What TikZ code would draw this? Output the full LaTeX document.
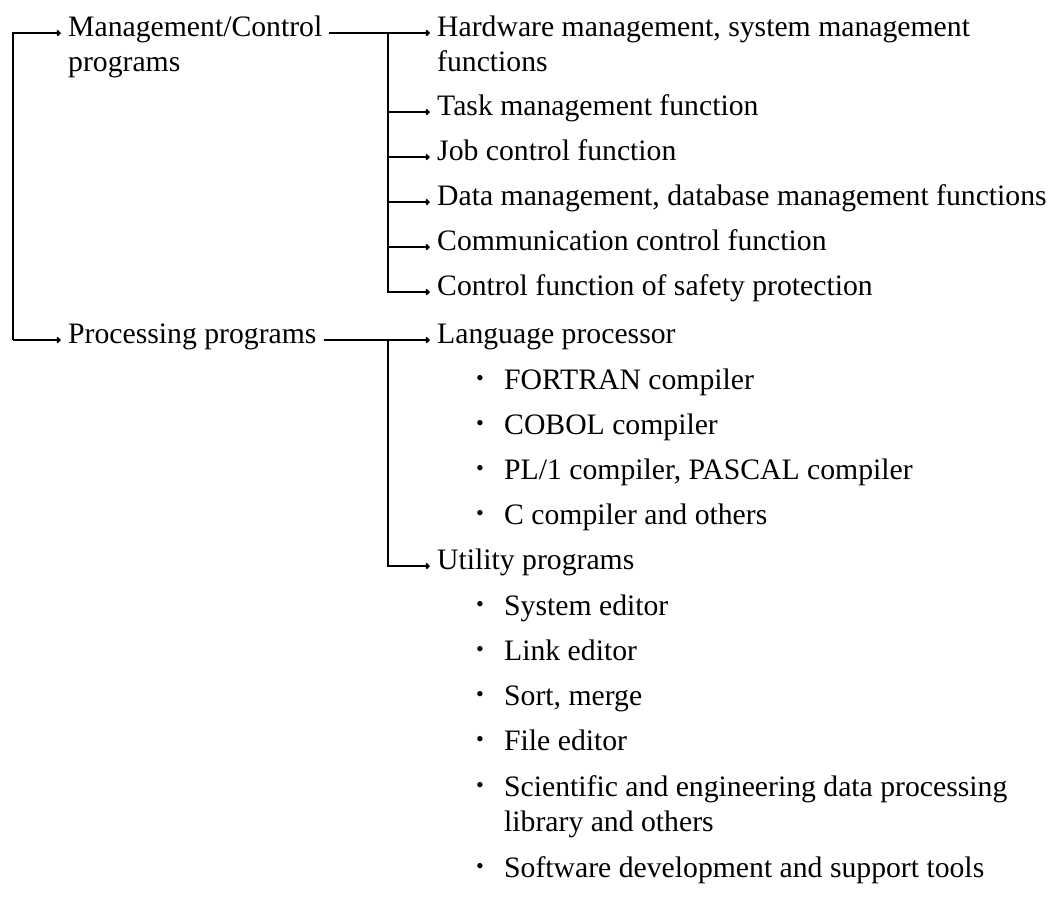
\documentclass[tikz,border=0pt]{standalone}
\usepackage{fontspec}
\setmainfont{Liberation Serif}
\usepackage{graphicx}
\usetikzlibrary{arrows.meta,positioning}
\newcommand{\listdot}{\makebox[28pt][l]{\raisebox{0.12em}{\scalebox{0.75}{•}}}}
\tikzset{%
	item/.style     = {anchor=base west, inner xsep=7pt, inner ysep=0pt, text height=0.7em, text depth=0.1em, font=\fontsize{29.7}{36}\selectfont}, % Text entry
	rowbelow/.style = {below=#1, anchor=base west}, % Next line under an entry
	wire/.style     = {line width=1.8pt},
	branch/.style   = {wire, -{Straight Barb[length=2.5pt,width=5pt]}},
}

\begin{document}
\begin{tikzpicture}[x=1pt,y=-1pt]
	\useasboundingbox (0,0) rectangle (1062,898);
	\coordinate (bus0) at (13,0);
	\coordinate (bus1) at (388,0);

	\node[item] (mgmt) at (61,36) {Management/Control};
	\node[item,rowbelow=35pt of mgmt.base west] (mgmt2) {programs};
	\node[item] (proc) at (61,343) {Processing programs};

	\node[item] (hw) at (430,36) {Hardware management, system management};
	\node[item,rowbelow=35pt of hw.base west] (hw2) {functions};
	\node[item,rowbelow=44pt of hw2.base west] (task) {Task management function};
	\node[item,rowbelow=45pt of task.base west] (job) {Job control function};
	\node[item,rowbelow=45pt of job.base west] (data) {Data management, database management functions};
	\node[item,rowbelow=45pt of data.base west] (comm) {Communication control function};
	\node[item,rowbelow=45pt of comm.base west] (safety) {Control function of safety protection};

	\node[item] (lang) at (430,343) {Language processor};
	\node[item,rowbelow=46pt of lang.base west,xshift=39pt] (fortran) {\listdot FORTRAN compiler};
	\node[item,rowbelow=45pt of fortran.base west] (cobol) {\listdot COBOL compiler};
	\node[item,rowbelow=45pt of cobol.base west] (pl1) {\listdot PL/1 compiler, PASCAL compiler};
	\node[item,rowbelow=45pt of pl1.base west] (ccomp) {\listdot C compiler and others};
	\node[item] (util) at (430,569) {Utility programs};
	\node[item,rowbelow=46pt of util.base west,xshift=39pt] (syseditor) {\listdot System editor};
	\node[item,rowbelow=45pt of syseditor.base west] (link) {\listdot Link editor};
	\node[item,rowbelow=45pt of link.base west] (sort) {\listdot Sort, merge};
	\node[item,rowbelow=45pt of sort.base west] (fileeditor) {\listdot File editor};
	\node[item,rowbelow=46pt of fileeditor.base west] (sci) {\listdot Scientific and engineering data processing};
	\node[item,rowbelow=35pt of sci.base west,xshift=28pt] (sci2) {library and others};
	\node[item,rowbelow=46pt of sci2.base west,xshift=-28pt] (soft) {\listdot Software development and support tools};

	\draw[branch] (bus0 |- proc.west) |- (mgmt.west);
	\draw[branch] (bus0 |- proc.west) -- (proc.west);
	\draw[branch] (mgmt.east) -- (hw.west);
	\draw[branch] (bus1 |- hw.west) |- (safety.west);
	\foreach \n in {task,job,data,comm}
		\draw[branch] (bus1 |- \n.west) -- (\n.west);
	\draw[branch] (proc.east) -- (lang.west);
	\draw[branch] (bus1 |- lang.west) |- (util.west);
\end{tikzpicture}
\end{document}
